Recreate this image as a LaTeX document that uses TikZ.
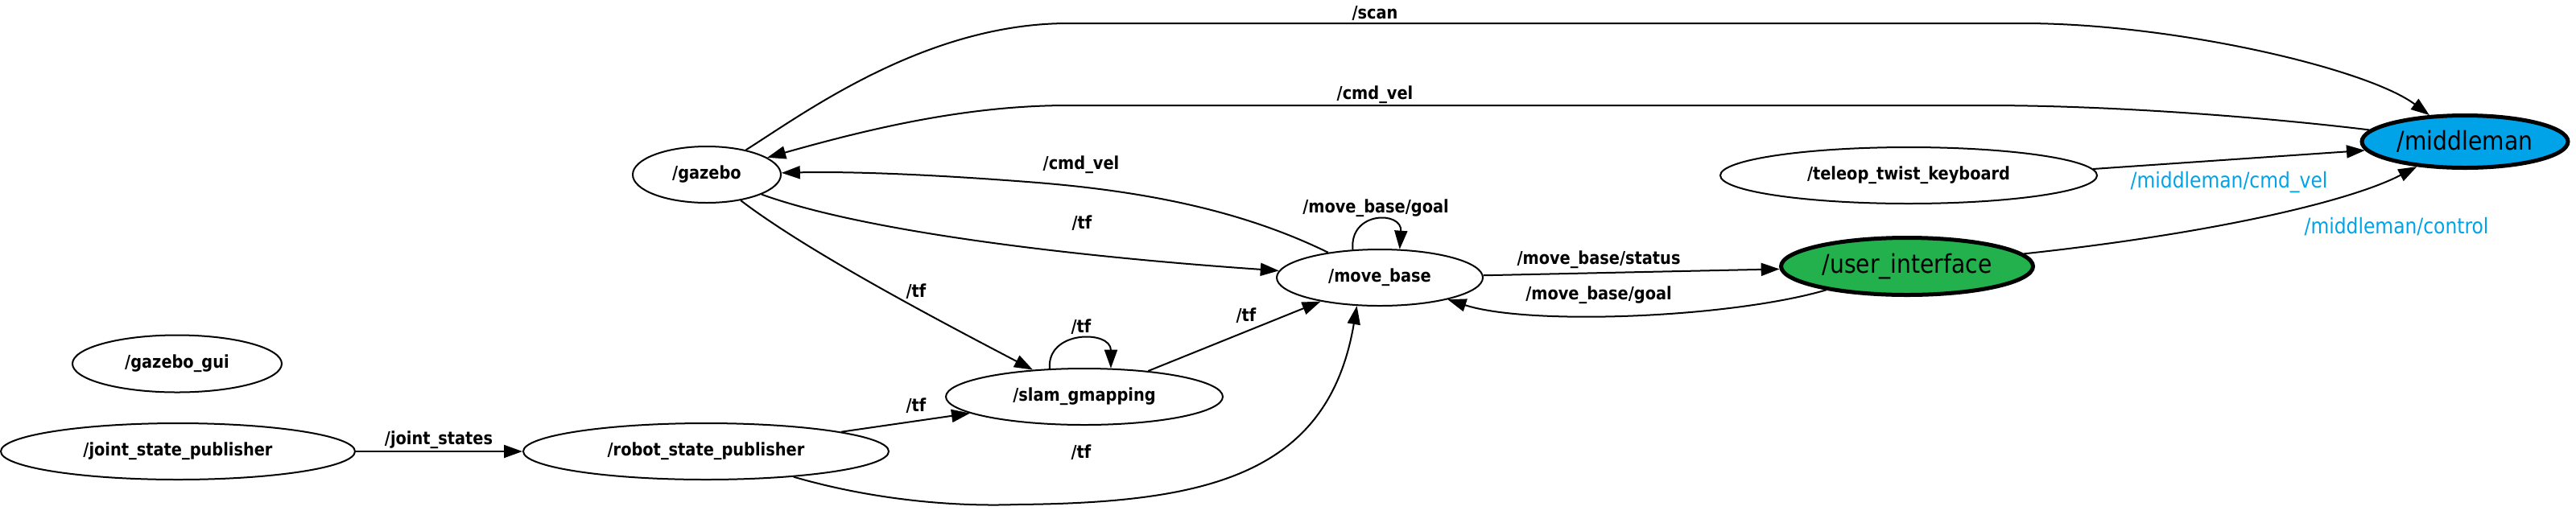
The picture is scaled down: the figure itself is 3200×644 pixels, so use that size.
\documentclass[tikz,border=0pt]{standalone}
\usepackage{fontspec}
\setmainfont{DejaVu Sans}[FakeStretch=0.88]
\usetikzlibrary{shapes.geometric,arrows.meta}
\definecolor{mmblue}{RGB}{0,162,232}
\definecolor{uigreen}{RGB}{34,177,76}
\begin{document}
\begin{tikzpicture}[x=0.5pt,y=-0.5pt,
  nd/.style={ellipse,draw,line width=1pt,inner sep=0pt,font=\fontsize{11}{13}\selectfont\bfseries},
  hl/.style={ellipse,draw,line width=2.5pt,inner sep=0pt,font=\fontsize{16}{18}\selectfont},
  edge/.style={line width=1pt,-{Triangle[length=11.5pt,width=8pt]}},
  lbl/.style={font=\fontsize{11}{13}\selectfont\bfseries,inner sep=0pt},
  blbl/.style={font=\fontsize{13.3}{15}\selectfont,text=mmblue,inner sep=0pt}]
\useasboundingbox (0,0) rectangle (3200,644);
% nodes
\node[nd,minimum width=92pt,minimum height=35pt] (gz) at (878,217) {/gazebo};
\node[nd,minimum width=130pt,minimum height=35.5pt] (gui) at (220,452) {/gazebo\_gui};
\node[nd,minimum width=220pt,minimum height=35pt] (jsp) at (221,561) {/joint\_state\_publisher};
\node[nd,minimum width=227pt,minimum height=35pt] (rsp) at (877,561) {/robot\_state\_publisher};
\node[nd,minimum width=172pt,minimum height=35pt] (slam) at (1347,493) {/slam\_gmapping};
\node[nd,minimum width=128pt,minimum height=35pt] (mb) at (1714,345) {/move\_base};
\node[hl,fill=uigreen,minimum width=156.5pt,minimum height=35.5pt] (ui) at (2369,331) {/user\_interface};
\node[nd,minimum width=234pt,minimum height=35pt] (tk) at (2371,218) {/teleop\_twist\_keyboard};
\node[hl,fill=mmblue,minimum width=128pt,minimum height=32.5pt] (mm) at (3062,176) {/middleman};
% edges
\draw[edge] (gz) .. controls (1000,140) and (1150,29) .. (1327,29) -- (2513,29) .. controls (2700,29) and (2940,85) .. (mm);
\draw[edge] (mm) .. controls (2850,150) and (2650,131) .. (2466,131) -- (1327,131) .. controls (1200,131) and (1080,160) .. (gz);
\draw[edge] (mb) .. controls (1560,270) and (1450,240) .. (1289,227) .. controls (1150,216) and (1050,213) .. (gz);
\draw[edge] (gz) .. controls (1080,290) and (1350,320) .. (mb);
\draw[edge] (gz) .. controls (1000,310) and (1150,390) .. (slam);
\draw[edge] (slam.141) .. controls (1300,410) and (1380,410) .. (slam.47);
\draw[edge] (slam) -- (mb);
\draw[edge] (rsp) -- (slam);
\draw[edge] (rsp) .. controls (1080,620) and (1180,630) .. (1263,627) .. controls (1500,625) and (1650,590) .. (mb.-129);
\draw[edge] (jsp) -- (rsp);
\draw[edge] (mb.134) .. controls (1676,262) and (1742,262) .. (mb.55);
\draw[edge] (mb) -- (ui);
\draw[edge] (ui) .. controls (2150,395) and (1900,405) .. (mb);
\draw[edge] (tk.2) -- (mm.185);
\draw[edge] (ui) .. controls (2750,290) and (2920,250) .. (mm);
% labels
\node[lbl] (l1) at (1708,16) {/scan};
\node[lbl] (l2) at (1708,118) {/cmd\_vel};
\node[lbl] (l3) at (1343,205) {/cmd\_vel};
\node[lbl] (l4) at (1709,259) {/move\_base/goal};
\node[lbl] (l5) at (1344,277) {/tf};
\node[lbl] (l6) at (1138,362) {/tf};
\node[lbl] (l7) at (1343,406) {/tf};
\node[lbl] (l8) at (1548,392) {/tf};
\node[lbl] (l9) at (1138,504) {/tf};
\node[lbl] (l10) at (1343,562) {/tf};
\node[lbl] (l11) at (1986,323) {/move\_base/status};
\node[lbl] (l12) at (1986,367) {/move\_base/goal};
\node[lbl] (l13) at (545,547) {/joint\_states};
\node[blbl] (l14) at (2769,227) {/middleman/cmd\_vel};
\node[blbl] (l15) at (2977,282) {/middleman/control};
\end{tikzpicture}
\end{document}
